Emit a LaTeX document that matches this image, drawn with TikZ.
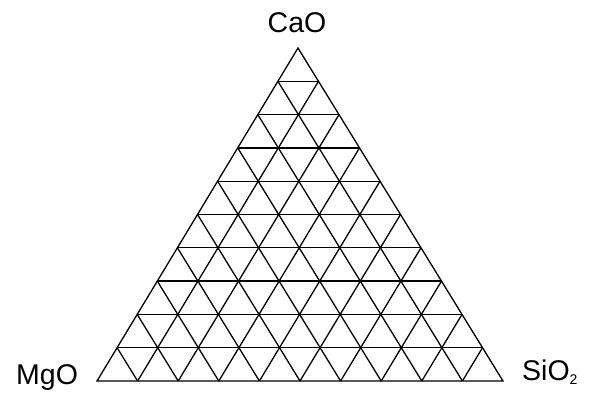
\documentclass[tikz,border=0pt]{standalone}
\usepackage{fontspec}
\setmainfont{Liberation Sans}
\usetikzlibrary{calc}
\begin{document}
\begin{tikzpicture}[x=1pt,y=1pt,
  grid/.style={line width=1.3pt,black},
  lbl/.style={font=\fontsize{28.5}{31}\selectfont,inner sep=0pt}]
\useasboundingbox (0,0) rectangle (597,394);
\coordinate (A) at (298,346);
\coordinate (L) at (97,13);
\coordinate (R) at (503,13);
\foreach \i in {1,...,9}{
  \draw[grid] ($(L)!\i/10!(A)$) -- ($(R)!\i/10!(A)$);
  \draw[grid] ($(L)!\i/10!(R)$) -- ($(R)!{1-\i/10}!(A)$);
  \draw[grid] ($(L)!\i/10!(R)$) -- ($(L)!\i/10!(A)$);
}
\draw[grid,line join=miter] (A) -- (L) -- (R) -- cycle;
\node[lbl,anchor=base] (cao) at (297,361) {CaO};
\node[lbl,anchor=base west] (mgo) at (16,10) {MgO};
\node[lbl,anchor=base west] (sio) at (522,14) {SiO\raisebox{-4pt}{\fontsize{14}{14}\selectfont 2}};
\end{tikzpicture}
\end{document}
